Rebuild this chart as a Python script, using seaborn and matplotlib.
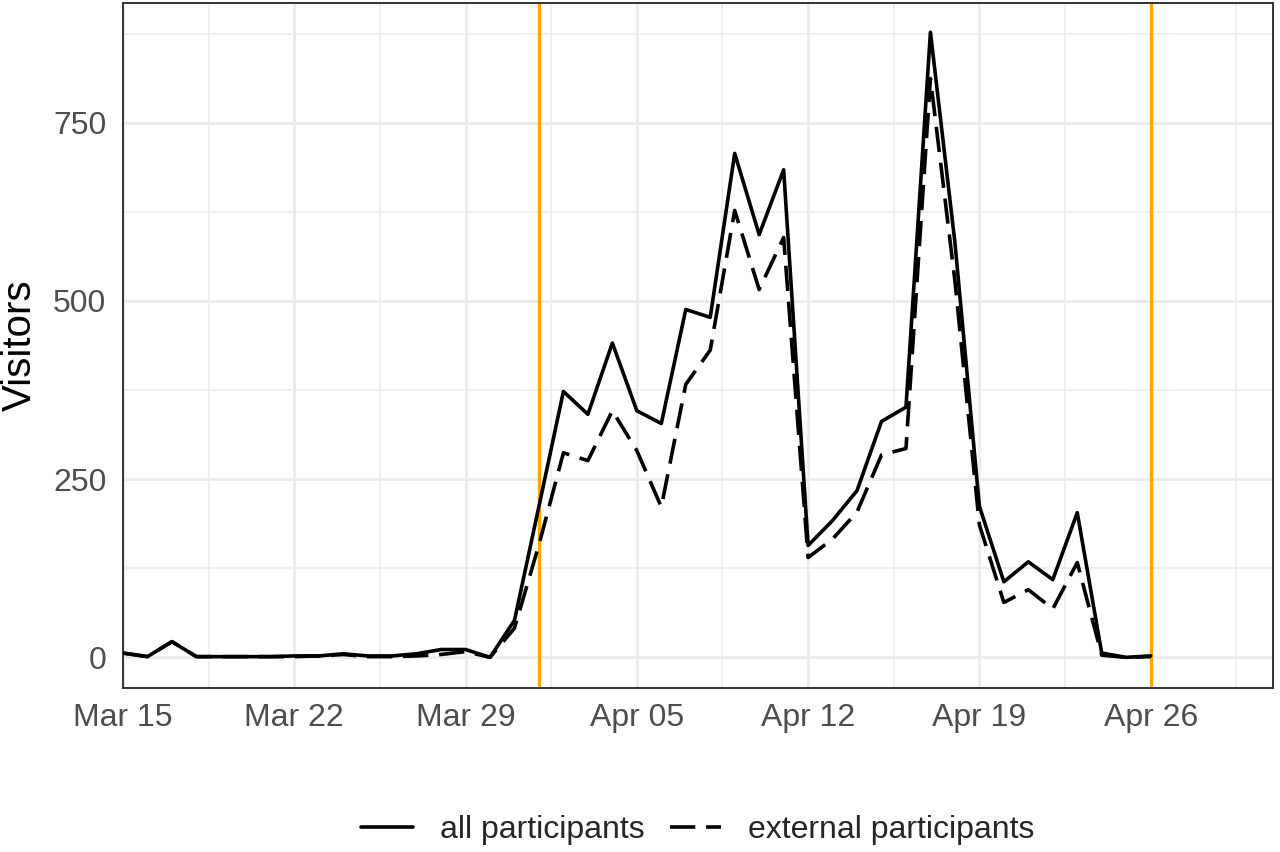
import numpy as np
import pandas as pd
import matplotlib
matplotlib.use("Agg")
import matplotlib.pyplot as plt
import matplotlib.dates as mdates
from matplotlib.lines import Line2D
import seaborn as sns

# ---- data ----
start_date = "2020-03-15"
all_participants = [6, 1, 22, 1, 1, 1, 1, 2, 2, 5, 2, 2, 5, 11, 11, 0, 52,
                    212, 373, 341, 441, 346, 328, 488, 477, 707, 593, 684,
                    157, 192, 234, 331, 351, 877, 582, 212, 106, 134, 109, 203,
                    6, 0, 2]
external_participants = [6, 1, 22, 1, 1, 1, 1, 1, 2, 4, 1, 1, 2, 4, 8, 0, 41,
                         158, 287, 276, 346, 290, 211, 383, 431, 627, 516, 589,
                         140, 166, 204, 284, 293, 812, 528, 186, 77, 95, 68, 133,
                         3, 0, 1]
series_names = ["all participants", "external participants"]
event_dates = ["2020-04-01", "2020-04-26"]
x_limits = ["2020-03-15", "2020-05-01"]
x_tick_dates = ["2020-03-15", "2020-03-22", "2020-03-29", "2020-04-05",
                "2020-04-12", "2020-04-19", "2020-04-26"]
y_ticks = [0, 250, 500, 750]
y_minor = [125, 375, 625, 875]

dates = pd.date_range(start_date, periods=len(all_participants), freq="D")
df = pd.concat([
    pd.DataFrame({"date": dates, "Visitors": all_participants, "group": series_names[0]}),
    pd.DataFrame({"date": dates, "Visitors": external_participants, "group": series_names[1]}),
], ignore_index=True)

sns.set_theme(style="white")
plt.rcParams["font.family"] = ["Liberation Sans", "DejaVu Sans"]

fig = plt.figure(figsize=(12.8, 8.52), dpi=100)
W, H = 1280, 852
ax = fig.add_axes([123 / W, (H - 688) / H, 1150 / W, 685 / H])
ax.set_facecolor("white")

for d in event_dates:
    ax.axvline(pd.Timestamp(d), color="#FFA500", lw=2.4, zorder=2)

LW = 2.6
DASH = (7, 3)
dash_map = {series_names[0]: "", series_names[1]: DASH}
sns.lineplot(data=df, x="date", y="Visitors", style="group", dashes=dash_map,
             color="black", linewidth=LW, ax=ax, legend=False, zorder=3)

ax.set_xlim(pd.Timestamp(x_limits[0]), pd.Timestamp(x_limits[1]))
ax.set_ylim(-43, 918)

major = [pd.Timestamp(d) for d in x_tick_dates]
ax.set_xticks(major)
ax.set_xticklabels([t.strftime("%b %d") for t in major])
minor_x = [major[i] + pd.Timedelta(hours=84) for i in range(len(major))]
ax.set_xticks(minor_x, minor=True)
ax.set_yticks(y_ticks)
ax.set_yticks(y_minor, minor=True)

ax.grid(which="major", color="#EBEBEB", lw=2.0, zorder=0)
ax.grid(which="minor", color="#EBEBEB", lw=1.1, zorder=0)
ax.set_axisbelow(True)

for s in ax.spines.values():
    s.set_color("#333333")
    s.set_linewidth(1.4)
    s.set_visible(True)

ax.tick_params(axis="both", which="major", length=6, width=1.8, color="#333333",
               labelcolor="#4D4D4D", labelsize=23, direction="out")
ax.tick_params(axis="x", which="major", pad=5)
ax.tick_params(axis="y", which="major", pad=6)
ax.tick_params(which="minor", length=0)

ax.set_xlabel("")
ax.set_ylabel("Visitors", fontsize=29, color="black", labelpad=10)

handles = [Line2D([], [], color="black", lw=LW, ls="-"),
           Line2D([], [], color="black", lw=LW, ls=(0, DASH))]
fig.legend(handles, series_names, loc="center", ncol=2, frameon=False,
           bbox_to_anchor=(698 / W, 1 - 830 / H), fontsize=23,
           handlelength=1.6, handletextpad=0.85, columnspacing=0.8)

fig.savefig("out.png", dpi=100, facecolor="white")
